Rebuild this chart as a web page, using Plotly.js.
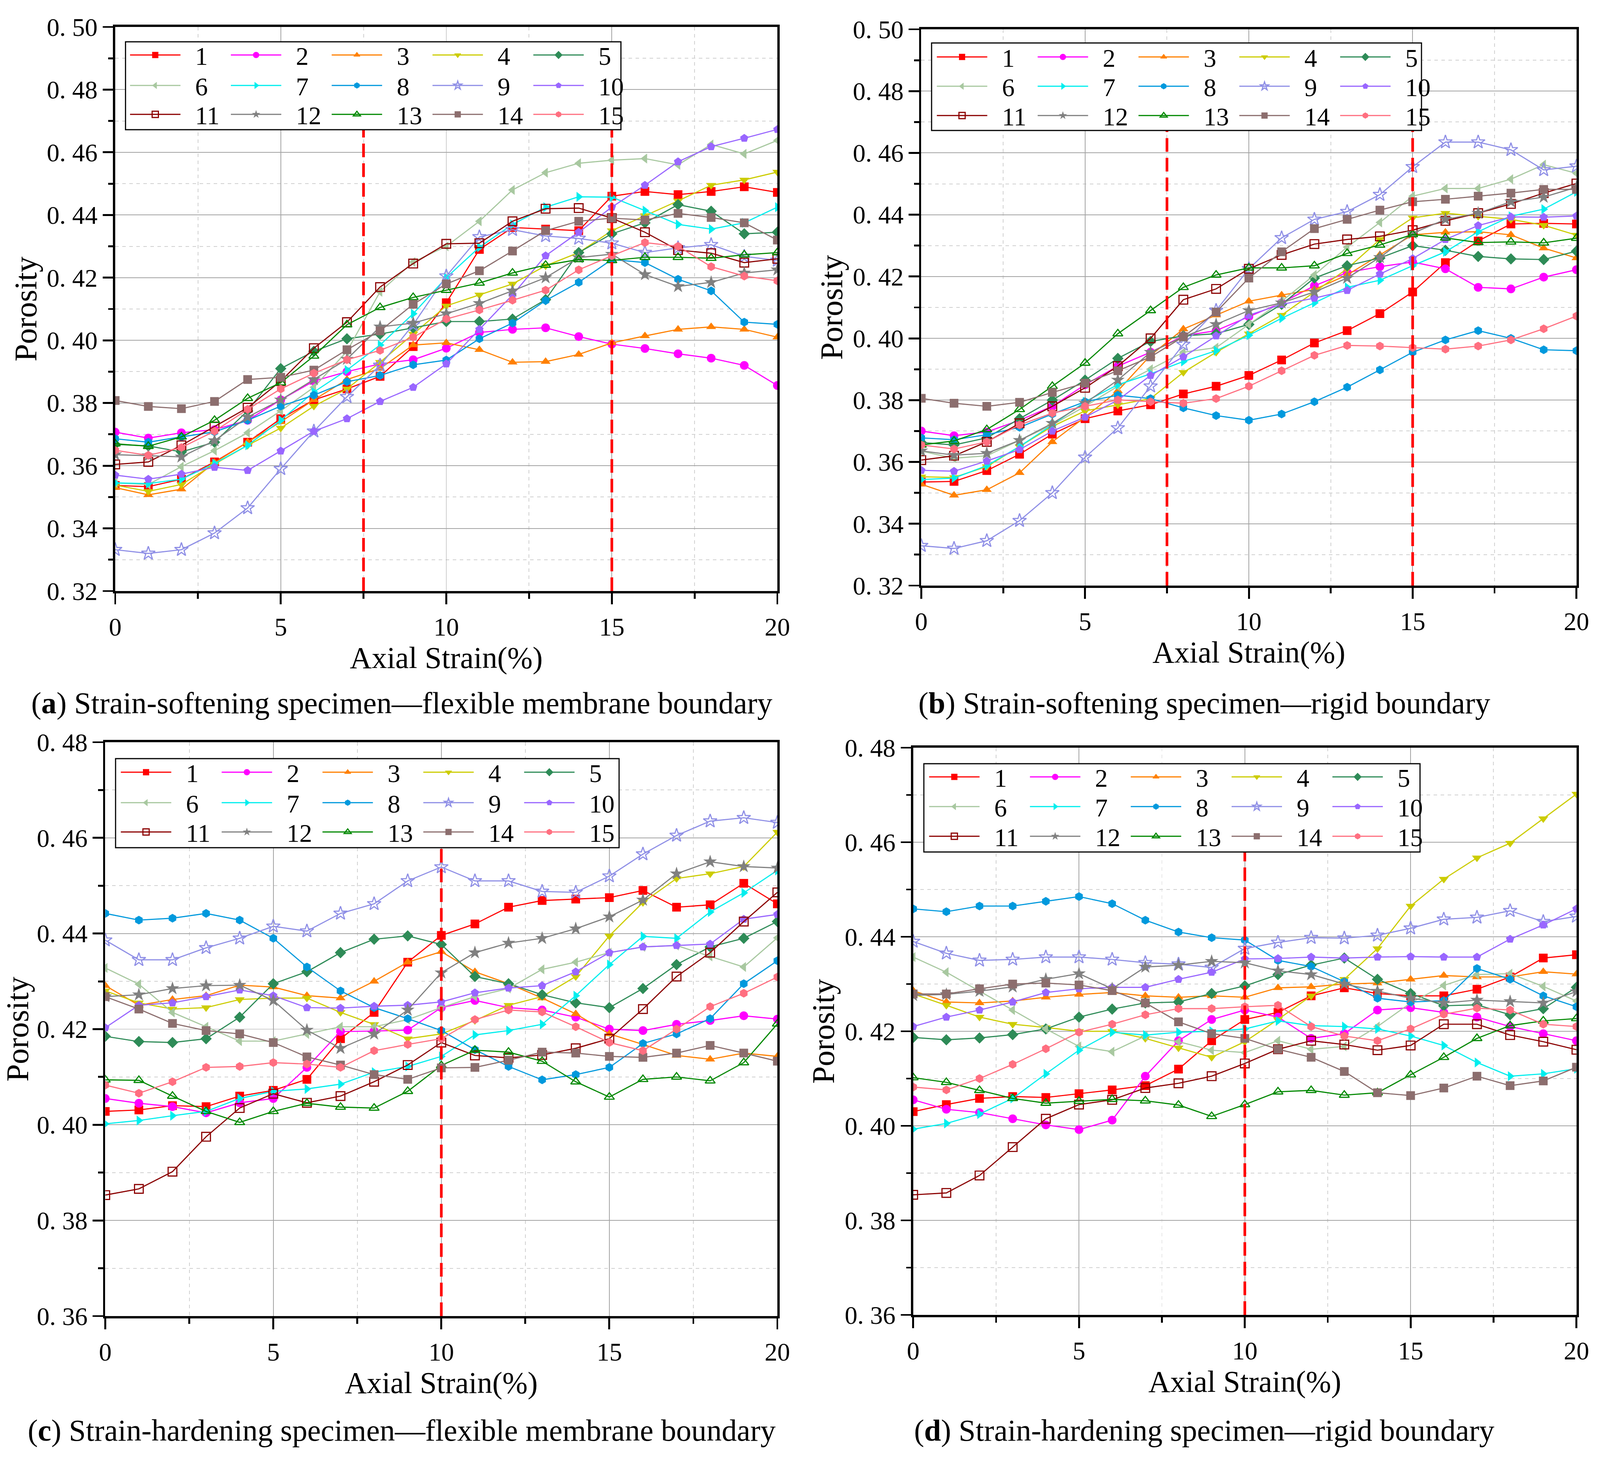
<!DOCTYPE html>
<html>
<head>
<meta charset="utf-8">
<script src="https://cdn.plot.ly/plotly-3.0.1.min.js"></script>
<style>html,body{margin:0;padding:0;background:#fff;overflow:hidden}</style>
</head>
<body>
<div id="chart"></div>
<script>
// ---------- data ----------
const strain = [0,1,2,3,4,5,6,7,8,9,10,11,12,13,14,15,16,17,18,19,20];
const seriesNames = ['1','2','3','4','5','6','7','8','9','10','11','12','13','14','15'];
const xTickVals = [0,5,10,15,20];
const xTickText = ['0','5','10','15','20'];
const yTickValsSoft = [0.32,0.34,0.36,0.38,0.40,0.42,0.44,0.46,0.48,0.50];
const yTickTextSoft = ['0. 32','0. 34','0. 36','0. 38','0. 40','0. 42','0. 44','0. 46','0. 48','0. 50'];
const yTickValsHard = [0.36,0.38,0.40,0.42,0.44,0.46,0.48];
const yTickTextHard = ['0. 36','0. 38','0. 40','0. 42','0. 44','0. 46','0. 48'];
const captions = [
  '(<b>a</b>) Strain-softening specimen\u2014flexible membrane boundary',
  '(<b>b</b>) Strain-softening specimen\u2014rigid boundary',
  '(<b>c</b>) Strain-hardening specimen\u2014flexible membrane boundary',
  '(<b>d</b>) Strain-hardening specimen\u2014rigid boundary'
];
const stageLinesSoft = [7.5, 15];
const stageLinesHard = [10];

// (a) strain-softening, flexible membrane boundary
const a1 = [0.3537,0.3533,0.3557,0.3612,0.3675,0.375,0.381,0.3845,0.3885,0.398,0.412,0.429,0.436,0.4355,0.435,0.446,0.4475,0.4465,0.4475,0.449,0.4472];
const a2 = [0.3707,0.3688,0.3705,0.3715,0.3745,0.381,0.387,0.390,0.3925,0.3938,0.3975,0.4025,0.4035,0.404,0.4012,0.3988,0.3974,0.3957,0.3943,0.392,0.3856];
const a3 = [0.353,0.3507,0.3525,0.361,0.3675,0.374,0.381,0.3875,0.391,0.3985,0.3992,0.397,0.393,0.3932,0.3955,0.3992,0.4014,0.4035,0.4043,0.4035,0.401];
const a4 = [0.3538,0.3518,0.354,0.3605,0.3665,0.372,0.379,0.3845,0.393,0.402,0.411,0.4145,0.418,0.4238,0.428,0.435,0.4398,0.4445,0.4495,0.4512,0.4537];
const a5 = [0.3668,0.3663,0.3644,0.3675,0.3775,0.391,0.3965,0.4005,0.402,0.404,0.406,0.406,0.4068,0.413,0.428,0.434,0.4375,0.4433,0.4412,0.434,0.4345];
const a6 = [0.3545,0.354,0.3597,0.3648,0.3705,0.3775,0.385,0.3965,0.4155,0.425,0.430,0.438,0.448,0.4535,0.4565,0.4575,0.458,0.456,0.4625,0.4595,0.4638];
const a7 = [0.3545,0.3543,0.3557,0.3607,0.3665,0.3745,0.3835,0.3905,0.3985,0.4085,0.42,0.4297,0.437,0.4425,0.4458,0.4457,0.4414,0.437,0.4355,0.4375,0.4425];
const a8 = [0.3686,0.3675,0.3692,0.3708,0.3745,0.379,0.3825,0.3868,0.3888,0.3922,0.3937,0.4005,0.4055,0.4127,0.4185,0.4258,0.4248,0.4195,0.4158,0.4058,0.4051];
const a9 = [0.3332,0.332,0.3332,0.3385,0.3465,0.359,0.371,0.382,0.392,0.405,0.4205,0.433,0.4353,0.4333,0.4325,0.431,0.428,0.4295,0.4305,0.4268,0.4255];
const a10 = [0.357,0.3557,0.3573,0.3595,0.3585,0.3647,0.371,0.375,0.3805,0.385,0.3925,0.4035,0.4145,0.427,0.4345,0.4425,0.4495,0.457,0.4618,0.4645,0.4673];
const a11 = [0.3604,0.3612,0.3665,0.3725,0.3785,0.387,0.3975,0.4058,0.417,0.4245,0.4308,0.431,0.438,0.442,0.4422,0.439,0.4345,0.4288,0.4278,0.4248,0.426];
const a12 = [0.3635,0.3632,0.3628,0.368,0.3755,0.381,0.3875,0.394,0.4043,0.4055,0.4085,0.4118,0.4158,0.42,0.4264,0.4275,0.421,0.4172,0.4185,0.4215,0.4225];
const a13 = [0.367,0.3662,0.3692,0.3745,0.3815,0.3865,0.395,0.405,0.4105,0.4137,0.416,0.4183,0.4215,0.424,0.4258,0.4255,0.4265,0.4265,0.4262,0.4273,0.428];
const a14 = [0.3808,0.3789,0.3782,0.3805,0.3875,0.3882,0.3905,0.397,0.403,0.4115,0.418,0.4222,0.4285,0.435,0.438,0.439,0.4384,0.4405,0.4392,0.4375,0.432];
const a15 = [0.3649,0.3633,0.3658,0.371,0.378,0.3845,0.3895,0.3938,0.3968,0.401,0.4068,0.4097,0.4128,0.416,0.4225,0.427,0.4312,0.43,0.4235,0.4205,0.419];

// (b) strain-softening, rigid boundary
const b1 = [0.3535,0.3537,0.3572,0.3625,0.369,0.374,0.3765,0.3785,0.382,0.3845,0.388,0.393,0.3985,0.4025,0.408,0.415,0.4245,0.4315,0.437,0.4372,0.437];
const b2 = [0.370,0.3685,0.3697,0.3735,0.378,0.385,0.391,0.3955,0.4008,0.4025,0.407,0.4115,0.417,0.4213,0.4232,0.4247,0.4225,0.4165,0.416,0.4198,0.4222];
const b3 = [0.3528,0.3492,0.351,0.3565,0.3665,0.3745,0.383,0.3945,0.403,0.4075,0.412,0.414,0.4158,0.4205,0.427,0.4335,0.4343,0.4345,0.4335,0.4292,0.426];
const b4 = [0.3552,0.355,0.3585,0.365,0.3715,0.3765,0.3785,0.3805,0.389,0.3955,0.4015,0.4075,0.415,0.4225,0.432,0.439,0.4405,0.4395,0.4385,0.4366,0.4334];
const b5 = [0.3663,0.3655,0.3678,0.374,0.380,0.3865,0.3935,0.399,0.4008,0.4015,0.4045,0.411,0.4195,0.4235,0.426,0.43,0.4285,0.4265,0.4257,0.4255,0.4282];
const b6 = [0.3635,0.3612,0.362,0.367,0.372,0.378,0.3845,0.390,0.3955,0.397,0.4045,0.412,0.4205,0.4295,0.4375,0.446,0.4485,0.4485,0.4515,0.4562,0.4534];
const b7 = [0.3543,0.3548,0.3588,0.365,0.372,0.3795,0.385,0.3885,0.3925,0.396,0.401,0.4065,0.4115,0.4165,0.4188,0.4235,0.428,0.4345,0.4395,0.4418,0.4474];
const b8 = [0.3678,0.3672,0.3688,0.3712,0.3755,0.3795,0.3816,0.3805,0.3775,0.375,0.3735,0.3755,0.3795,0.3842,0.3898,0.3955,0.3995,0.4025,0.400,0.3963,0.396];
const b9 = [0.3329,0.332,0.3345,0.341,0.350,0.3615,0.371,0.3845,0.398,0.409,0.4225,0.4325,0.4385,0.441,0.4465,0.4555,0.4635,0.4635,0.461,0.4545,0.4557];
const b10 = [0.3573,0.357,0.3603,0.364,0.370,0.3745,0.380,0.388,0.394,0.4008,0.4075,0.411,0.413,0.4155,0.4208,0.4258,0.432,0.4365,0.4393,0.4392,0.4396];
const b11 = [0.3606,0.362,0.3665,0.3725,0.378,0.384,0.391,0.400,0.4125,0.416,0.4225,0.427,0.4305,0.432,0.433,0.435,0.438,0.4405,0.4435,0.447,0.4501];
const b12 = [0.3636,0.3622,0.3628,0.367,0.3725,0.379,0.3865,0.3955,0.4005,0.4045,0.409,0.4115,0.415,0.4195,0.4262,0.434,0.4385,0.4405,0.4442,0.4457,0.4489];
const b13 = [0.3655,0.3668,0.3705,0.377,0.3845,0.392,0.4015,0.409,0.4165,0.4205,0.4228,0.4228,0.4235,0.4275,0.4302,0.4336,0.4325,0.431,0.4312,0.4309,0.4324];
const b14 = [0.3806,0.379,0.378,0.3793,0.3825,0.3855,0.3895,0.394,0.4005,0.4085,0.4195,0.428,0.4355,0.4385,0.4415,0.4442,0.445,0.446,0.447,0.4482,0.4482];
const b15 = [0.3655,0.3642,0.3665,0.372,0.3758,0.378,0.3801,0.3795,0.379,0.3805,0.3845,0.3895,0.3945,0.3977,0.3975,0.397,0.3965,0.3975,0.3995,0.4031,0.4072];

// (c) strain-hardening, flexible membrane boundary
const c1 = [0.4028,0.4031,0.404,0.4038,0.406,0.4072,0.4095,0.418,0.4235,0.434,0.4396,0.442,0.4455,0.4469,0.4472,0.4475,0.449,0.4455,0.446,0.4505,0.4462];
const c2 = [0.4055,0.4045,0.4038,0.4025,0.4046,0.4055,0.412,0.4195,0.4196,0.4198,0.4245,0.426,0.4245,0.424,0.4225,0.42,0.4197,0.421,0.4218,0.4228,0.4221];
const c3 = [0.4291,0.425,0.4262,0.427,0.4292,0.4288,0.427,0.4265,0.430,0.434,0.4362,0.432,0.4295,0.4265,0.4232,0.419,0.4168,0.4145,0.4137,0.415,0.4143];
const c4 = [0.428,0.4255,0.4242,0.4245,0.4262,0.4265,0.4265,0.4235,0.421,0.418,0.419,0.4218,0.425,0.4268,0.431,0.4395,0.4465,0.4515,0.4525,0.454,0.4612];
const c5 = [0.4185,0.4174,0.4172,0.418,0.4225,0.4295,0.432,0.436,0.4388,0.4395,0.4377,0.431,0.4295,0.4272,0.4255,0.4245,0.4285,0.4335,0.4372,0.439,0.4425];
const c6 = [0.4328,0.4294,0.4235,0.4205,0.4175,0.4175,0.419,0.4205,0.4205,0.422,0.4245,0.4268,0.4285,0.4325,0.434,0.436,0.4372,0.4375,0.4352,0.433,0.4391];
const c7 = [0.4002,0.4009,0.4019,0.4028,0.4055,0.407,0.4075,0.4085,0.411,0.4122,0.4143,0.4188,0.4197,0.421,0.427,0.4335,0.4394,0.439,0.4445,0.4485,0.4532];
const c8 = [0.4442,0.4428,0.4432,0.4442,0.4428,0.439,0.433,0.428,0.4245,0.4222,0.4197,0.4157,0.4122,0.4094,0.4105,0.412,0.417,0.419,0.4222,0.4295,0.4343];
const c9 = [0.4386,0.4345,0.4345,0.437,0.439,0.4415,0.4405,0.4442,0.4462,0.451,0.4539,0.451,0.451,0.4488,0.4486,0.452,0.4566,0.4605,0.4635,0.4642,0.4632];
const c10 = [0.4203,0.425,0.4255,0.4268,0.4282,0.427,0.4245,0.4244,0.4248,0.425,0.4257,0.4276,0.4286,0.4291,0.432,0.436,0.4372,0.4375,0.4378,0.443,0.444];
const c11 = [0.3853,0.3866,0.3902,0.3975,0.4035,0.4065,0.4046,0.406,0.409,0.4125,0.4172,0.4145,0.414,0.4146,0.416,0.418,0.4242,0.431,0.436,0.4425,0.4486];
const c12 = [0.4268,0.4272,0.4285,0.4291,0.4292,0.426,0.4198,0.416,0.419,0.424,0.4318,0.436,0.438,0.439,0.441,0.4435,0.447,0.4525,0.455,0.454,0.4537];
const c13 = [0.4094,0.4093,0.406,0.4028,0.4005,0.4028,0.4045,0.4037,0.4035,0.407,0.4124,0.4156,0.4152,0.4133,0.409,0.4058,0.4095,0.41,0.4092,0.413,0.4211];
const c14 = [0.4268,0.4242,0.4212,0.4197,0.419,0.4172,0.4142,0.4125,0.4105,0.4095,0.4119,0.412,0.4135,0.4152,0.415,0.4143,0.4141,0.415,0.4166,0.415,0.4133];
const c15 = [0.4083,0.4066,0.409,0.412,0.4122,0.413,0.4127,0.412,0.4155,0.4168,0.418,0.422,0.424,0.4236,0.4205,0.4172,0.4155,0.42,0.4247,0.4275,0.4309];

// (d) strain-hardening, rigid boundary
const d1 = [0.403,0.4045,0.4058,0.4062,0.406,0.4068,0.4076,0.4085,0.412,0.418,0.4225,0.424,0.4275,0.4292,0.428,0.4275,0.4275,0.4289,0.4315,0.4355,0.4362];
const d2 = [0.4055,0.4035,0.4028,0.4015,0.4002,0.3992,0.4012,0.4105,0.418,0.4225,0.4245,0.423,0.4185,0.4195,0.4245,0.425,0.424,0.423,0.421,0.4195,0.418];
const d3 = [0.4286,0.4262,0.426,0.4264,0.4272,0.4278,0.4282,0.4275,0.4272,0.4275,0.4272,0.4292,0.4294,0.43,0.4302,0.431,0.4318,0.4315,0.4315,0.4326,0.4321];
const d4 = [0.4279,0.4255,0.423,0.4215,0.4208,0.42,0.42,0.4185,0.4165,0.4145,0.4178,0.4225,0.4275,0.431,0.4375,0.4465,0.4522,0.4567,0.4598,0.465,0.4702];
const d5 = [0.4187,0.4182,0.4186,0.4193,0.4205,0.423,0.4247,0.426,0.4262,0.428,0.4296,0.432,0.434,0.4355,0.431,0.428,0.4254,0.4256,0.4235,0.4248,0.4293];
const d6 = [0.4357,0.4325,0.4285,0.4245,0.4205,0.4168,0.4157,0.419,0.4178,0.416,0.4155,0.418,0.4162,0.4168,0.421,0.426,0.4297,0.432,0.4322,0.4295,0.4264];
const d7 = [0.3993,0.4005,0.4025,0.4058,0.411,0.416,0.4198,0.4192,0.4198,0.42,0.4205,0.4222,0.4212,0.421,0.4205,0.419,0.417,0.4134,0.4105,0.411,0.4121];
const d8 = [0.4459,0.4453,0.4465,0.4465,0.4475,0.4485,0.447,0.4435,0.441,0.4398,0.4393,0.435,0.4337,0.4305,0.427,0.4262,0.4265,0.4333,0.431,0.4275,0.4252];
const d9 = [0.439,0.4365,0.435,0.4352,0.4357,0.4357,0.4352,0.4345,0.4342,0.4335,0.4375,0.4388,0.4398,0.4397,0.4403,0.4418,0.4437,0.4441,0.4455,0.4432,0.4443];
const d10 = [0.421,0.423,0.4245,0.4262,0.4282,0.429,0.4293,0.4293,0.431,0.4325,0.4353,0.4354,0.4357,0.4355,0.4357,0.4358,0.4357,0.4357,0.4395,0.4425,0.4459];
const d11 = [0.3854,0.3858,0.3895,0.3955,0.4015,0.4045,0.4055,0.408,0.409,0.4105,0.4132,0.4162,0.418,0.4172,0.416,0.417,0.4215,0.4215,0.4192,0.4178,0.4161];
const d12 = [0.4276,0.4278,0.4285,0.4294,0.431,0.4322,0.429,0.4336,0.434,0.4348,0.4345,0.4328,0.432,0.430,0.4285,0.427,0.426,0.4266,0.4263,0.426,0.4284];
const d13 = [0.4102,0.4092,0.4075,0.4058,0.4048,0.4052,0.4056,0.4053,0.4044,0.402,0.4045,0.4072,0.4075,0.4065,0.407,0.4108,0.4145,0.4185,0.4212,0.4222,0.4227];
const d14 = [0.4279,0.4279,0.429,0.430,0.4302,0.4298,0.4286,0.426,0.422,0.4195,0.4185,0.4162,0.4145,0.4115,0.407,0.4064,0.408,0.4105,0.4085,0.4095,0.4124];
const d15 = [0.4082,0.4076,0.41,0.413,0.4163,0.4198,0.4215,0.4235,0.4248,0.4248,0.4252,0.4255,0.421,0.419,0.418,0.4205,0.4236,0.4249,0.4245,0.4215,0.421];

// ---------- styles ----------
const seriesColors = ['#FF0000','#FF00FF','#FF8000','#CCCC00','#2E8B57','#A8C8A0','#00EEEE','#0099DD','#8F8FE6','#9966FF','#8B0000','#808080','#008800','#8C6E6E','#FF6F80'];
const seriesSymbols = ['square','circle','triangle-up','triangle-down','diamond','triangle-left','triangle-right','hexagon','star-open','pentagon','square-open','star','triangle-up-open','square','hexagon'];
const FONT = 'Liberation Serif';
const BW = 4347, BH = 3740;                 // design size (reference pixels)
const W = document.documentElement.clientWidth || window.innerWidth;
const H = document.documentElement.clientHeight || window.innerHeight;
const SX = W / BW, SY = H / BH;
const S = Math.sqrt(SX * SY);               // scale for fonts / strokes
const px = v => v * S;

const panels = [
  {data:[a1,a2,a3,a4,a5,a6,a7,a8,a9,a10,a11,a12,a13,a14,a15], px:[313,2112], py:[69,1513], yr:[0.32,0.50], tv:yTickValsSoft, tt:yTickTextSoft, stage:stageLinesSoft,
   box:[341,1687,107,332], rows:[141,219,293], legX:348, cap:[1092,1800]},
  {data:[b1,b2,b3,b4,b5,b6,b7,b8,b9,b10,b11,b12,b13,b14,b15], px:[2503,4283], py:[75,1499], yr:[0.32,0.50], tv:yTickValsSoft, tt:yTickTextSoft, stage:stageLinesSoft,
   box:[2531,3862,110,334], rows:[146,221,296], legX:2540, cap:[3272,1800]},
  {data:[c1,c2,c3,c4,c5,c6,c7,c8,c9,c10,c11,c12,c13,c14,c15], px:[286,2112], py:[1900,3369], yr:[0.36,0.48], tv:yTickValsHard, tt:yTickTextHard, stage:stageLinesHard,
   box:[314,1682,1942,2170], rows:[1977,2055,2130], legX:323, cap:[1092,3662]},
  {data:[d1,d2,d3,d4,d5,d6,d7,d8,d9,d10,d11,d12,d13,d14,d15], px:[2481,4283], py:[1914,3366], yr:[0.36,0.48], tv:yTickValsHard, tt:yTickTextHard, stage:stageLinesHard,
   box:[2510,3858,1955,2181], rows:[1989,2065,2141], legX:2519, cap:[3272,3662]}
];

const traces = [];
const layout = {
  width: W, height: H,
  margin: {l:0, r:0, t:0, b:0},
  paper_bgcolor: '#ffffff', plot_bgcolor: '#ffffff',
  font: {family: FONT, color: '#000'},
  shapes: [], annotations: []
};

const TW = px(5);
const gridMajor = '#a3a3a3', gridMinor = '#d0d0d0';

panels.forEach((p, i) => {
  const n = i + 1;
  const xs = n === 1 ? '' : String(n);
  const xId = 'x' + xs, yId = 'y' + xs;
  const xd = [p.px[0] / BW, p.px[1] / BW];
  const yd = [1 - p.py[1] / BH, 1 - p.py[0] / BH];
  layout['xaxis' + xs] = {
    domain: xd, anchor: yId, range: [0, 20],
    tickmode: 'array', tickvals: xTickVals, ticktext: xTickText,
    ticks: 'outside', ticklen: 28 * SY, tickwidth: TW, tickcolor: '#000', ticklabelstandoff: 2 * SY,
    showline: true, linewidth: px(6), linecolor: '#000', mirror: true,
    showgrid: true, gridcolor: gridMajor, gridwidth: px(2), zeroline: false,
    tickfont: {family: FONT, size: px(67), color: '#000'},
    minor: {tickmode: 'linear', tick0: 0, dtick: 2.5, ticks: 'outside', ticklen: 14 * SY, tickwidth: TW, tickcolor: '#000',
            showgrid: true, gridcolor: gridMinor, griddash: 'dash', gridwidth: px(2)},
    title: {text: 'Axial Strain(%)', font: {family: FONT, size: px(80), color: '#000'}, standoff: 0},
    fixedrange: true
  };
  layout['yaxis' + xs] = {
    domain: yd, anchor: xId, range: p.yr,
    tickmode: 'array', tickvals: p.tv, ticktext: p.tt,
    ticks: 'outside', ticklen: 28 * SX, tickwidth: TW, tickcolor: '#000', ticklabelstandoff: 14 * SX,
    showline: true, linewidth: px(6), linecolor: '#000', mirror: true,
    showgrid: true, gridcolor: gridMajor, gridwidth: px(2), zeroline: false,
    tickfont: {family: FONT, size: px(67), color: '#000'},
    minor: {tickmode: 'linear', tick0: p.yr[0], dtick: 0.01, ticks: 'outside', ticklen: 13 * SX, tickwidth: TW, tickcolor: '#000',
            showgrid: true, gridcolor: gridMinor, griddash: 'dash', gridwidth: px(2)},
    title: {text: 'Porosity', font: {family: FONT, size: px(83), color: '#000'}, standoff: 2 * SX},
    fixedrange: true
  };
  // inward ticks on the top and right sides
  layout['xaxis' + (n + 4)] = {
    overlaying: xId, side: 'top', anchor: yId, range: [0, 20],
    tickmode: 'array', tickvals: xTickVals, ticks: 'inside', ticklen: 26 * SY, tickwidth: TW, tickcolor: '#000',
    showticklabels: false, showgrid: false, showline: false, zeroline: false, fixedrange: true,
    minor: {tickmode: 'linear', tick0: 0, dtick: 2.5, ticks: 'inside', ticklen: 14 * SY, tickwidth: TW, tickcolor: '#000', showgrid: false}
  };
  layout['yaxis' + (n + 4)] = {
    overlaying: yId, side: 'right', anchor: xId, range: p.yr,
    tickmode: 'array', tickvals: p.tv, ticks: 'inside', ticklen: 26 * SX, tickwidth: TW, tickcolor: '#000',
    showticklabels: false, showgrid: false, showline: false, zeroline: false, fixedrange: true,
    minor: {tickmode: 'linear', tick0: p.yr[0], dtick: 0.01, ticks: 'inside', ticklen: 24 * SX, tickwidth: TW, tickcolor: '#000', showgrid: false}
  };

  // stage divider lines: from the x axis up to the bottom of the legend frame
  const plotBottom = 1 - p.py[1] / BH, boxBottom = 1 - p.box[3] / BH;
  p.stage.forEach(sx => {
    layout.shapes.push({type: 'line', xref: xId, yref: 'paper', x0: sx, x1: sx, y0: plotBottom, y1: boxBottom,
      line: {color: '#FF0000', width: px(7), dash: px(36) + 'px,' + px(16) + 'px'}, layer: 'above'});
  });
  layout.shapes.push({type: 'rect', xref: 'paper', yref: 'paper',
    x0: p.box[0] / BW, x1: p.box[1] / BW, y0: boxBottom, y1: 1 - p.box[2] / BH,
    line: {color: '#000', width: px(3)}, fillcolor: '#ffffff', layer: 'above'});

  for (let r = 0; r < 3; r++) {
    const idx = i * 3 + r + 1;
    const lid = idx === 1 ? 'legend' : 'legend' + idx;
    layout[lid] = {
      x: p.legX / BW, xanchor: 'left', y: 1 - p.rows[r] / BH, yanchor: 'middle',
      orientation: 'h', bgcolor: 'rgba(0,0,0,0)', borderwidth: 0,
      font: {family: FONT, size: px(67), color: '#000'},
      itemwidth: Math.max(30, 137 * SX), entrywidth: 121 * SX, entrywidthmode: 'pixels',
      tracegroupgap: 0, traceorder: 'normal'
    };
  }

  p.data.forEach((vals, k) => {
    const open = seriesSymbols[k].indexOf('open') >= 0;
    const idx = i * 3 + Math.floor(k / 5) + 1;
    traces.push({
      type: 'scatter', mode: 'lines+markers',
      x: strain, y: vals, name: '\u00a0\u00a0' + seriesNames[k],
      xaxis: xId, yaxis: yId,
      legend: idx === 1 ? 'legend' : 'legend' + idx,
      line: {color: seriesColors[k], width: px(3)},
      marker: {symbol: seriesSymbols[k], size: px(seriesSymbols[k].indexOf('star') >= 0 ? 27 : 23),
               color: seriesColors[k], line: {color: seriesColors[k], width: open ? px(3) : 0}}
    });
  });

  layout.annotations.push({
    text: captions[i], xref: 'paper', yref: 'paper', x: p.cap[0] / BW, y: 1 - p.cap[1] / BH,
    xanchor: 'center', yanchor: 'middle', showarrow: false,
    font: {family: FONT, size: px(80), color: '#000'}
  });
});

Plotly.newPlot('chart', traces, layout, {staticPlot: true, displayModeBar: false});
</script>
</body>
</html>
